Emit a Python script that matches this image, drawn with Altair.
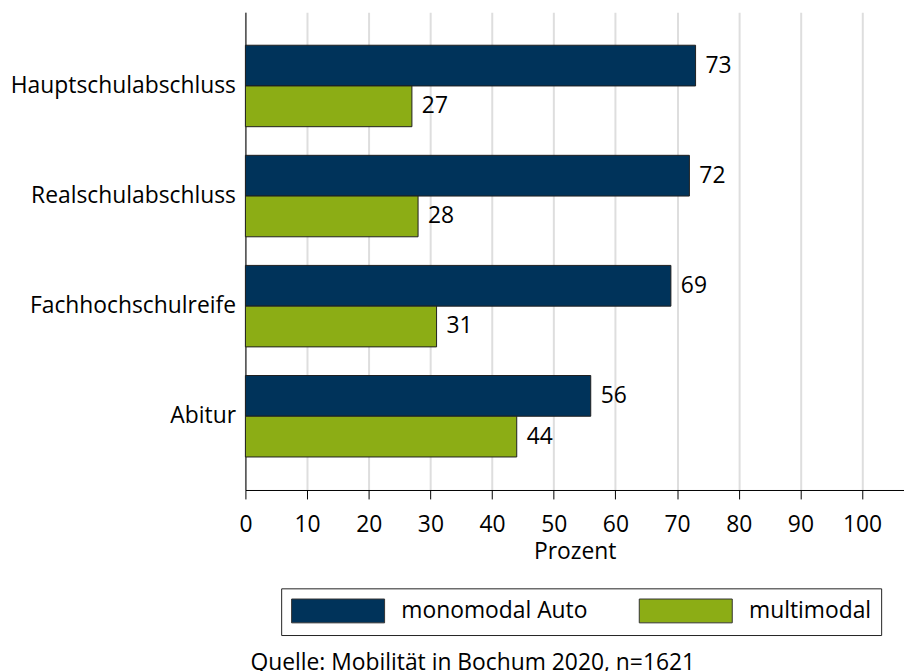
import altair as alt
import pandas as pd

categories = ["Hauptschulabschluss", "Realschulabschluss", "Fachhochschulreife", "Abitur"]
series = ["monomodal Auto", "multimodal"]
mono = [73, 72, 69, 56]
multi = [27, 28, 31, 44]
x_ticks = [0, 10, 20, 30, 40, 50, 60, 70, 80, 90, 100]
colors = ["#00335A", "#8CAD15"]

rows = []
for c, a, b in zip(categories, mono, multi):
    rows.append({"cat": c, "series": series[0], "value": a})
    rows.append({"cat": c, "series": series[1], "value": b})
df = pd.DataFrame(rows)

FONT = "Open Sans"
FS = 23

y = alt.Y("cat:N", sort=categories, title=None,
          scale=alt.Scale(paddingInner=0.26, paddingOuter=0.3),
          axis=alt.Axis(ticks=False, labelFontSize=FS, labelPadding=10, labelColor="black",
                        labelLimit=0, domainColor="black", domainWidth=1, labelFont=FONT))
yoff = alt.YOffset("series:N", sort=series, scale=alt.Scale(paddingInner=0, paddingOuter=0))
x = alt.X("value:Q", title="Prozent",
          scale=alt.Scale(domain=[0, 106.8], nice=False),
          axis=alt.Axis(values=x_ticks, grid=True, gridColor="#dedede", gridWidth=2,
                        tickColor="black", tickSize=9, domainColor="black", domainWidth=1,
                        labelFontSize=FS, labelColor="black", labelPadding=15, labelFont=FONT,
                        titleFontSize=FS, titleFontWeight="normal", titleColor="black",
                        titlePadding=4, titleFont=FONT, labelFlush=False))

color = alt.Color("series:N", sort=series,
                  scale=alt.Scale(domain=series, range=colors),
                  legend=alt.Legend(orient="none", legendX=36, legendY=580, direction="horizontal",
                                    title=None, symbolType="M-1,-1H6.8V1H-1Z", symbolSize=576,
                                    symbolStrokeColor="#333333", symbolStrokeWidth=1, symbolOpacity=1,
                                    labelFontSize=FS, labelFont=FONT, labelColor="black",
                                    labelLimit=0, labelOffset=86, columnPadding=49, padding=10,
                                    strokeColor="#222222", fillColor="white"))

bars = alt.Chart(df).mark_bar(stroke="#1f1f1f", strokeWidth=1).encode(
    x=x, y=y, yOffset=yoff, color=color)

labels = alt.Chart(df).mark_text(align="left", baseline="middle", dx=10, fontSize=FS,
                                 font=FONT, color="black").encode(
    x="value:Q", y=alt.Y("cat:N", sort=categories), yOffset=yoff, text="value:Q")

chart = alt.layer(bars, labels).properties(
    width=663, height=481,
    autosize=alt.AutoSizeParams(type="none"),
    padding={"left": 239, "top": 2, "right": 0, "bottom": 182},
    title=alt.TitleParams("Quelle: Mobilität in Bochum 2020, n=1621", orient="bottom",
                          anchor="start", frame="group", fontSize=FS, fontWeight="normal",
                          font=FONT, color="black", dx=5, offset=17),
).configure_view(stroke=None)

chart.save("out.html", embed_options={"renderer": "svg", "actions": False})
